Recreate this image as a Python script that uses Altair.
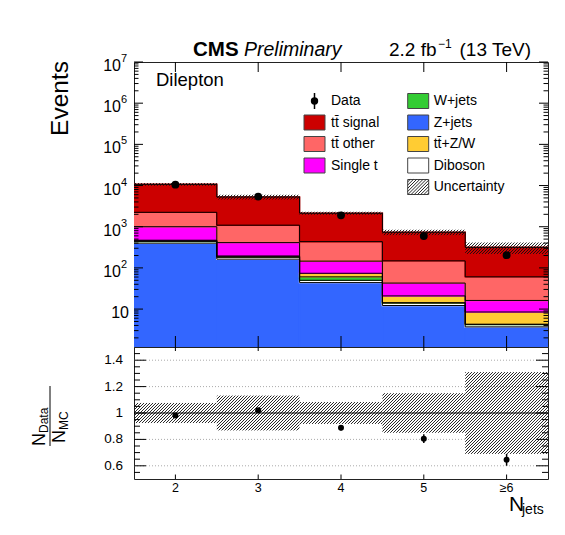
import math
import altair as alt
import pandas as pd

FONT = "Liberation Sans"

# ---------------- data ----------------
categories = ["2", "3", "4", "5", "≥6"]
n_jets = [2, 3, 4, 5, 6]

z_jets    = [398.0, 163.0, 44.0, 12.2, 3.7]
diboson   = [42.0, 18.0, 6.0, 1.8, 0.5]
w_jets    = [15.0, 6.0, 10.6, 0.3, 0.1]
tt_zw     = [15.0, 8.0, 13.4, 6.6, 4.2]
single_t  = [530.0, 216.0, 72.0, 21.9, 7.7]
tt_other  = [1240.0, 679.0, 288.0, 105.5, 44.4]
tt_signal = [8460.0, 4190.0, 1696.0, 587.0, 255.5]

data_counts = [10490.0, 5390.0, 1890.0, 592.0, 204.0]
ratio_err = [0.010, 0.014, 0.020, 0.033, 0.045]
mc_unc = [0.076, 0.132, 0.083, 0.150, 0.310]

process_names = ["Z+jets", "Diboson", "W+jets", "tt̄+Z/W", "Single t", "tt̄ other", "tt̄ signal"]
process_values = [z_jets, diboson, w_jets, tt_zw, single_t, tt_other, tt_signal]
process_colors = ["#3366ff", "#ffffff", "#33cc33", "#ffcc33", "#ff00ff", "#ff6666", "#cc0000"]

legend_col1 = ["Data", "tt̄ signal", "tt̄ other", "Single t"]
legend_col2 = ["W+jets", "Z+jets", "tt̄+Z/W", "Diboson", "Uncertainty"]

log_major = [10, 100, 1000, 10000, 100000, 1000000, 10000000]
log_exponents = ["", "2", "3", "4", "5", "6", "7"]
ratio_major = [0.6, 0.8, 1.0, 1.2, 1.4]
ratio_labels = ["0.6", "0.8", "1", "1.2", "1.4"]
ratio_grid = [0.6, 0.8, 1.2, 1.4]

# ---------------- layout ----------------
W, HT, HR = 414, 285, 132
XMIN, XMAX = 1.5, 6.5
YMIN, YMAX = 1.2, 1.0e7
RMIN, RMAX = 0.5, 1.5
LMIN, LMAX = math.log10(YMIN), math.log10(YMAX)

xs = alt.Scale(domain=[XMIN, XMAX], nice=False, zero=False)
ys = alt.Scale(type="log", domain=[YMIN, YMAX], nice=False, clamp=True)
rs = alt.Scale(domain=[RMIN, RMAX], nice=False, zero=False)


def px_x(v): return (v - XMIN) / (XMAX - XMIN) * W
def inv_x(p): return XMIN + p / W * (XMAX - XMIN)
def px_log(v): return (LMAX - math.log10(v)) / (LMAX - LMIN) * HT
def inv_log(p): return 10 ** (LMAX - p / HT * (LMAX - LMIN))
def px_r(v): return (RMAX - v) / (RMAX - RMIN) * HR
def inv_r(p): return RMAX - p / HR * (RMAX - RMIN)


def hatch(x0, x1, y0, y1, s=3.0):
    segs = []
    c = math.ceil((x0 + y0) / s) * s
    while c < x1 + y1:
        xa = max(x0, c - y1)
        xb = min(x1, c - y0)
        if xb > xa + 0.2:
            segs.append((xa, c - xa, xb, c - xb))
        c += s
    return segs


# ---------------- tables ----------------
color_of = dict(zip(process_names, process_colors))
stack_rows, step_rows = [], []
cum = [0.0] * 5
for name, vals in zip(process_names, process_values):
    for i in range(5):
        lo = cum[i]
        hi = lo + vals[i]
        cum[i] = hi
        stack_rows.append({"proc": name, "x0": n_jets[i] - 0.5, "x1": n_jets[i] + 0.5,
                           "lo": max(lo, YMIN), "hi": hi, "color": color_of[name]})
        step_rows.append({"proc": name, "x": n_jets[i] - 0.5, "y": hi})
    step_rows.append({"proc": name, "x": n_jets[-1] + 0.5, "y": cum[-1]})
totals = cum[:]
stack_df = pd.DataFrame(stack_rows)
step_df = pd.DataFrame(step_rows)

data_df = pd.DataFrame({"x": n_jets, "y": data_counts})
ratio_vals = [d / t for d, t in zip(data_counts, totals)]
ratio_df = pd.DataFrame({"x": n_jets, "r": ratio_vals,
                         "lo": [r - e for r, e in zip(ratio_vals, ratio_err)],
                         "hi": [r + e for r, e in zip(ratio_vals, ratio_err)]})

top_hatch, rat_hatch = [], []
for i in range(5):
    bx0, bx1 = px_x(n_jets[i] - 0.5), px_x(n_jets[i] + 0.5)
    t = totals[i]
    for xa, ya, xb, yb in hatch(bx0, bx1, px_log(t * (1 + mc_unc[i])), px_log(t * (1 - mc_unc[i]))):
        top_hatch.append({"xa": inv_x(xa), "ya": inv_log(ya), "xb": inv_x(xb), "yb": inv_log(yb)})
    for xa, ya, xb, yb in hatch(bx0, bx1, px_r(1 + mc_unc[i]), px_r(1 - mc_unc[i])):
        rat_hatch.append({"xa": inv_x(xa), "ya": inv_r(ya), "xb": inv_x(xb), "yb": inv_r(yb)})
top_hatch_df = pd.DataFrame(top_hatch)
rat_hatch_df = pd.DataFrame(rat_hatch)

# legend (pixel positions inside the top panel)
ROW0, DROW = 39.0, 21.5
C1_BOX, C2_BOX, BOXW, BOXH = 170.0, 273.7, 21.0, 15.0
leg_boxes, leg_text = [], []
for j, name in enumerate(legend_col1):
    yc = ROW0 + j * DROW
    leg_text.append({"x": C1_BOX + 27, "y": yc, "t": name})
    if name in color_of:
        leg_boxes.append({"x0": C1_BOX, "x1": C1_BOX + BOXW, "y0": yc - BOXH / 2, "y1": yc + BOXH / 2,
                          "color": color_of[name]})
for j, name in enumerate(legend_col2):
    yc = ROW0 + j * DROW
    leg_text.append({"x": C2_BOX + 26, "y": yc, "t": name})
    leg_boxes.append({"x0": C2_BOX, "x1": C2_BOX + BOXW, "y0": yc - BOXH / 2, "y1": yc + BOXH / 2,
                      "color": color_of.get(name, "#ffffff")})
leg_box_df = pd.DataFrame(leg_boxes)
leg_text_df = pd.DataFrame(leg_text)
uyc = ROW0 + 4 * DROW
leg_hatch_df = pd.DataFrame([{"xa": a, "ya": b, "xb": c, "yb": d}
                             for a, b, c, d in hatch(C2_BOX, C2_BOX + BOXW, uyc - BOXH / 2, uyc + BOXH / 2, 3.2)])
data_leg_df = pd.DataFrame({"x": [C1_BOX + BOXW / 2], "y": [ROW0], "y0": [ROW0 - 8], "y1": [ROW0 + 8]})

log_minor = [m * 10 ** k for k in range(0, 7) for m in range(2, 10) if YMIN <= m * 10 ** k <= YMAX]
ratio_minor = [round(0.5 + 0.05 * k, 2) for k in range(1, 20)]
ratio_minor = [v for v in ratio_minor if v not in ratio_major]

one = pd.DataFrame({"k": [0]})


def label(text, x, y, size, align="left", baseline="alphabetic", angle=0, weight="normal", style="normal"):
    return alt.Chart(one).mark_text(
        text=text, align=align, baseline=baseline, angle=angle, fontSize=size,
        fontWeight=weight, fontStyle=style, font=FONT, color="black"
    ).encode(x=alt.value(x), y=alt.value(y))


def yticks(values, scale, length, width):
    df = pd.DataFrame({"v": values})
    base = alt.Chart(df).mark_rule(color="black", strokeWidth=1)
    return [
        base.encode(x=alt.value(0), x2=alt.value(length), y=alt.Y("v:Q", scale=scale, axis=None)),
        base.encode(x=alt.value(width - length), x2=alt.value(width), y=alt.Y("v:Q", scale=scale, axis=None)),
    ]


def xticks(height, up, down):
    df = pd.DataFrame({"v": n_jets})
    base = alt.Chart(df).mark_rule(color="black", strokeWidth=1)
    return [
        base.encode(x=alt.X("v:Q", scale=xs, axis=None), y=alt.value(height), y2=alt.value(height - up)),
        base.encode(x=alt.X("v:Q", scale=xs, axis=None), y=alt.value(0), y2=alt.value(down)),
    ]


# ---------------- top panel ----------------
stack = alt.Chart(stack_df).mark_rect(strokeWidth=1.5, clip=True).encode(
    x=alt.X("x0:Q", scale=xs, axis=None), x2="x1:Q",
    y=alt.Y("lo:Q", scale=ys, axis=None), y2="hi:Q",
    fill=alt.Fill("color:N", scale=None), stroke=alt.Stroke("color:N", scale=None),
)
steps = alt.Chart(step_df).mark_line(interpolate="step-after", color="black", strokeWidth=1).encode(
    x=alt.X("x:Q", scale=xs, axis=None), y=alt.Y("y:Q", scale=ys, axis=None),
    detail="proc:N", order="x:Q",
)
top_h = alt.Chart(top_hatch_df).mark_rule(color="#111111", strokeWidth=0.9).encode(
    x=alt.X("xa:Q", scale=xs, axis=None), y=alt.Y("ya:Q", scale=ys, axis=None), x2="xb:Q", y2="yb:Q",
)
pts = alt.Chart(data_df).mark_circle(size=62, color="black", opacity=1).encode(
    x=alt.X("x:Q", scale=xs, axis=None), y=alt.Y("y:Q", scale=ys, axis=None),
)
lbox = alt.Chart(leg_box_df).mark_rect(stroke="#444444", strokeWidth=1).encode(
    x=alt.X("x0:Q", scale=None, axis=None), x2="x1:Q",
    y=alt.Y("y0:Q", scale=None, axis=None), y2="y1:Q",
    fill=alt.Fill("color:N", scale=None),
)
lhatch = alt.Chart(leg_hatch_df).mark_rule(color="#111111", strokeWidth=0.9).encode(
    x=alt.X("xa:Q", scale=None, axis=None), y=alt.Y("ya:Q", scale=None, axis=None), x2="xb:Q", y2="yb:Q",
)
ltext = alt.Chart(leg_text_df).mark_text(align="left", baseline="middle", fontSize=14, font=FONT,
                                         color="black").encode(
    x=alt.X("x:Q", scale=None, axis=None), y=alt.Y("y:Q", scale=None, axis=None), text="t:N",
)
ldot = alt.Chart(data_leg_df).mark_circle(size=55, color="black", opacity=1).encode(
    x=alt.X("x:Q", scale=None, axis=None), y=alt.Y("y:Q", scale=None, axis=None),
)
lbar = alt.Chart(data_leg_df).mark_rule(color="black", strokeWidth=1.5).encode(
    x=alt.X("x:Q", scale=None, axis=None), y=alt.Y("y0:Q", scale=None, axis=None), y2="y1:Q",
)

exp_df = pd.DataFrame({"v": log_major[1:], "e": log_exponents[1:]})
ten_df = pd.DataFrame({"v": log_major[:1]})
ylab_base = alt.Chart(exp_df).mark_text(text="10", align="right", baseline="middle", dy=4, fontSize=16,
                                        font=FONT, color="black").encode(
    x=alt.value(-13), y=alt.Y("v:Q", scale=ys, axis=None))
ylab_exp = alt.Chart(exp_df).mark_text(align="left", baseline="middle", dy=-3, fontSize=11,
                                       font=FONT, color="black").encode(
    x=alt.value(-13), y=alt.Y("v:Q", scale=ys, axis=None), text="e:N")
ylab_ten = alt.Chart(ten_df).mark_text(text="10", align="right", baseline="middle", dy=4, fontSize=16,
                                       font=FONT, color="black").encode(
    x=alt.value(-5), y=alt.Y("v:Q", scale=ys, axis=None))

anchor = alt.Chart(one).mark_rule(strokeOpacity=0, opacity=0).encode(
    x=alt.value(-125), x2=alt.value(-124), y=alt.value(-53), y2=alt.value(-52))

top_layers = [stack, steps, top_h, pts, lbox, lhatch, ltext, lbar, ldot,
              ylab_base, ylab_exp, ylab_ten, anchor,
              label("Events", -73, -1, 24.5, align="right", baseline="middle", angle=270),
              label("CMS", 59, -6, 20.5, weight="bold"),
              label("Preliminary", 110, -6, 19.5, style="italic"),
              label("2.2 fb", 255, -6, 19),
              label("−1", 304, -14, 12),
              label("(13 TeV)", 397, -6, 19, align="right"),
              label("Dilepton", 22, 24, 18.5)]
top_layers += yticks(log_major, ys, 9, W) + yticks(log_minor, ys, 4.5, W) + xticks(HT, 11, 10)
top = alt.layer(*top_layers).properties(width=W, height=HT)

# ---------------- ratio panel ----------------
grid = alt.Chart(pd.DataFrame({"v": ratio_grid})).mark_rule(
    color="#aaaaaa", strokeWidth=1, strokeDash=[1, 2]).encode(
    x=alt.value(0), x2=alt.value(W), y=alt.Y("v:Q", scale=rs, axis=None))
rh = alt.Chart(rat_hatch_df).mark_rule(color="#111111", strokeWidth=0.9).encode(
    x=alt.X("xa:Q", scale=xs, axis=None), y=alt.Y("ya:Q", scale=rs, axis=None), x2="xb:Q", y2="yb:Q",
)
unity = alt.Chart(pd.DataFrame({"v": [1.0]})).mark_rule(color="black", strokeWidth=1).encode(
    x=alt.value(0), x2=alt.value(W), y=alt.Y("v:Q", scale=rs, axis=None))
rerr = alt.Chart(ratio_df).mark_rule(color="black", strokeWidth=1.5).encode(
    x=alt.X("x:Q", scale=xs, axis=None), y=alt.Y("lo:Q", scale=rs, axis=None), y2="hi:Q")
rpts = alt.Chart(ratio_df).mark_circle(size=36, color="black", opacity=1).encode(
    x=alt.X("x:Q", scale=xs, axis=None), y=alt.Y("r:Q", scale=rs, axis=None))
rlab = alt.Chart(pd.DataFrame({"v": ratio_major, "t": ratio_labels})).mark_text(
    align="right", baseline="middle", fontSize=13.5, font=FONT, color="black").encode(
    x=alt.value(-11), y=alt.Y("v:Q", scale=rs, axis=None), text="t:N")
xlab = alt.Chart(pd.DataFrame({"v": n_jets, "t": categories})).mark_text(
    align="center", baseline="middle", fontSize=12.5, font=FONT, color="black").encode(
    x=alt.X("v:Q", scale=xs, axis=None), y=alt.value(HR + 9), text="t:N")
frac = alt.Chart(one).mark_rule(color="black", strokeWidth=1).encode(
    x=alt.value(-84), y=alt.value(39), y2=alt.value(99))

bot_layers = [grid, rh, unity, rerr, rpts, rlab, xlab, frac,
              label("N", -89, 99, 18, angle=270),
              label("Data", -86, 86, 12, angle=270),
              label("N", -69, 96, 18, angle=270),
              label("MC", -66, 83, 12, angle=270),
              label("N", 375, 164, 21),
              label("jets", 388, 167, 14)]
bot_layers += yticks(ratio_major, rs, 12, W) + yticks(ratio_minor, rs, 6, W) + xticks(HR, 4.5, 4)
bottom = alt.layer(*bot_layers).properties(width=W, height=HR)

chart = alt.vconcat(top, bottom, spacing=0, bounds="flush").properties(
    padding=0, background="white"
).configure_view(stroke="#222222", strokeWidth=1)

chart.save("out.html", embed_options={"renderer": "svg", "actions": False})
